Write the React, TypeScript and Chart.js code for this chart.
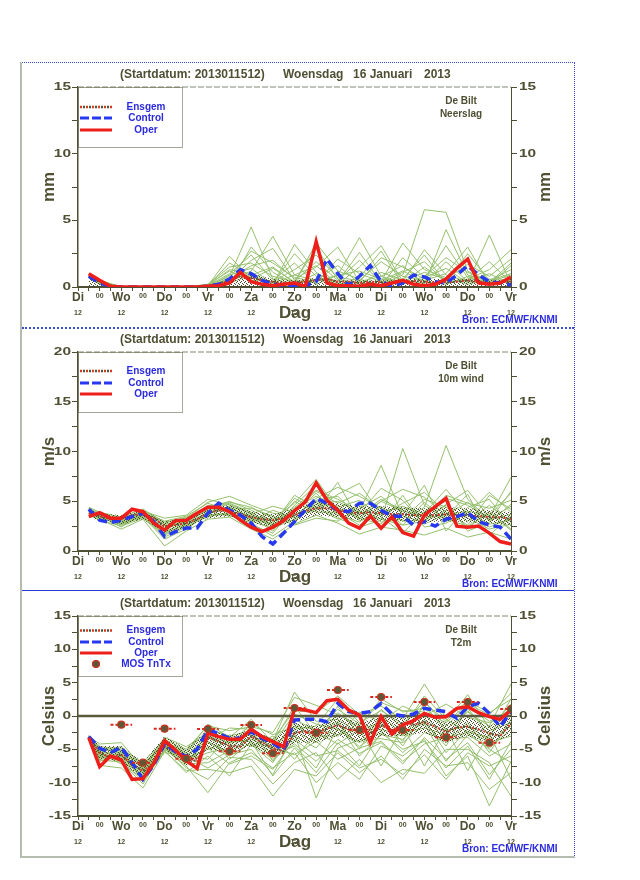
import React, { useEffect, useRef } from 'react';
import { Chart, registerables } from 'chart.js';
Chart.register(...registerables);

const FONT = '"Liberation Sans", Arial, Helvetica, sans-serif';
const OLIVE = '#4f4f33';
const BLUE_TXT = '#2a2ae0';
const GREEN = '#95c06e';
const RED = '#ee1f1a';
const BLUE = '#2638f0';

// ---------- axis / label data ----------
const HOURS_6H = [6, 12, 18, 24, 30, 36, 42, 48, 54, 60, 66, 72, 78, 84, 90, 96, 102, 108, 114, 120, 126, 132, 138, 144, 150, 156, 162, 168, 174, 180, 186, 192, 198, 204, 210, 216, 222, 228, 234, 240];
const MEMBER_HOURS = [6, 12, 24, 36, 48, 60, 72, 84, 96, 108, 120, 132, 144, 156, 168, 180, 192, 204, 216, 228, 240];
const DAY_NAMES = ['Di', 'Wo', 'Do', 'Vr', 'Za', 'Zo', 'Ma', 'Di', 'Wo', 'Do', 'Vr'];
const DAY_HOURS = [0, 24, 48, 72, 96, 120, 144, 168, 192, 216, 240];
const MIDNIGHT_HOURS = [12, 36, 60, 84, 108, 132, 156, 180, 204, 228];
const TITLE_PARTS = ['(Startdatum: 2013011512)', 'Woensdag', '16 Januari', '2013'];
const TITLE_X = [120, 283, 353, 424];
const STATION = 'De Bilt';
const SOURCE = 'Bron: ECMWF/KNMI';

// ---------- precipitation (mm) ----------
const PRECIP_OPER = [1.0, 0.5, 0.05, 0, 0, 0, 0, 0, 0, 0, 0, 0.05, 0.1, 0.3, 1.1, 0.4, 0.2, 0.1, 0.2, 0.3, 0.05, 3.4, 0.3, 0.1, 0.1, 0.05, 0.2, 0.1, 0.3, 0.5, 0.2, 0.1, 0.2, 0.6, 1.4, 2.1, 0.3, 0.2, 0.3, 0.75];
const PRECIP_CTRL = [0.8, 0.3, 0.05, 0, 0, 0, 0, 0, 0, 0, 0, 0.05, 0.2, 0.6, 1.3, 1.0, 0.5, 0.2, 0.1, 0.1, 0.1, 0.4, 2.1, 1.0, 0.1, 0.8, 1.6, 0.4, 0.05, 0.3, 0.9, 0.75, 0.4, 0.3, 0.9, 1.6, 0.9, 0.4, 0.3, 0.15];
const PRECIP_ENS = [0.8, 0.4, 0.1, 0, 0, 0, 0, 0, 0, 0, 0.02, 0.1, 0.25, 0.5, 0.8, 0.7, 0.5, 0.4, 0.3, 0.35, 0.4, 0.5, 0.6, 0.4, 0.4, 0.3, 0.4, 0.35, 0.3, 0.4, 0.45, 0.4, 0.35, 0.35, 0.4, 0.5, 0.4, 0.3, 0.35, 0.4];
const PRECIP_BAND_LO = [0, 0, 0, 0, 0, 0, 0, 0, 0, 0, 0, 0, 0, 0, 0, 0, 0, 0, 0, 0, 0];
const PRECIP_BAND_HI = [0.9, 0.4, 0, 0, 0, 0, 0.1, 0.6, 1.0, 0.6, 0.5, 0.7, 0.5, 0.5, 0.5, 0.6, 0.6, 0.6, 0.6, 0.5, 0.6];
const PRECIP_MEMBERS = [
  [0.9, 0.4, 0, 0, 0, 0, 0.1, 0.8, 4.5, 0.6, 0.2, 1.0, 0.3, 0.1, 0.5, 1.2, 0.4, 0.2, 0.8, 0.3, 0.5],
  [0.8, 0.3, 0, 0, 0, 0, 0.2, 1.5, 1.8, 0.8, 0.4, 2.9, 0.6, 0.2, 1.1, 0.5, 0.3, 1.9, 0.4, 0.2, 0.6],
  [1.0, 0.5, 0, 0, 0, 0, 0, 0.4, 1.2, 3.8, 0.9, 0.5, 1.6, 0.3, 0.2, 0.9, 5.8, 5.6, 1.2, 0.3, 0.4],
  [0.7, 0.2, 0, 0, 0, 0, 0.1, 1.0, 2.4, 0.5, 1.8, 0.2, 0.9, 3.7, 0.8, 0.3, 1.5, 0.4, 2.5, 0.5, 1.3],
  [0.9, 0.3, 0, 0, 0, 0, 0, 0.3, 0.9, 1.5, 0.3, 3.3, 1.2, 0.6, 0.1, 2.2, 0.7, 1.4, 0.3, 3.9, 0.2],
  [0.8, 0.4, 0, 0, 0, 0, 0.1, 1.8, 0.8, 0.3, 2.5, 0.8, 0.2, 1.5, 3.1, 0.4, 1.1, 0.6, 1.7, 0.8, 2.1],
  [1.0, 0.5, 0, 0, 0, 0, 0, 0.6, 1.6, 2.0, 0.6, 1.5, 3.0, 0.4, 0.8, 1.6, 0.2, 4.3, 0.9, 0.4, 0.9],
  [0.8, 0.3, 0, 0, 0, 0, 0, 0.2, 3.0, 1.1, 0.2, 0.6, 0.4, 2.6, 0.3, 0.6, 2.4, 0.3, 0.5, 1.9, 0.3],
  [0.9, 0.4, 0, 0, 0, 0, 0.2, 1.2, 0.5, 0.4, 1.3, 2.4, 0.7, 0.5, 1.9, 0.8, 0.5, 1.0, 3.0, 0.2, 1.6],
  [0.7, 0.3, 0, 0, 0, 0, 0.1, 0.5, 2.0, 2.9, 0.5, 0.3, 2.1, 1.0, 0.4, 3.3, 1.3, 0.7, 0.2, 0.6, 0.4],
  [0.9, 0.4, 0, 0, 0, 0, 0, 0.9, 1.4, 0.2, 3.2, 1.1, 0.1, 0.7, 2.7, 0.2, 0.8, 2.2, 1.1, 0.5, 1.0],
  [0.8, 0.3, 0, 0, 0, 0, 0.1, 2.3, 0.6, 1.4, 0.4, 1.9, 0.5, 2.0, 0.3, 1.1, 1.9, 0.3, 0.6, 1.3, 2.8],
  [0.8, 0.4, 0, 0, 0, 0, 0, 0.7, 2.7, 1.8, 0.7, 0.4, 0.9, 1.2, 0.6, 0.4, 2.8, 0.9, 0.4, 1.0, 0.2],
  [0.9, 0.3, 0, 0, 0, 0, 0.1, 1.3, 1.0, 0.3, 0.9, 1.6, 0.2, 0.4, 2.2, 1.5, 0.6, 3.1, 0.7, 0.3, 1.8],
];

// ---------- 10m wind (m/s) ----------
const WIND_OPER = [3.45, 3.85, 3.3, 3.3, 4.2, 3.95, 2.8, 2.1, 3.05, 3.1, 3.8, 4.4, 4.4, 3.95, 3.1, 2.4, 1.95, 2.4, 3.05, 4.05, 4.95, 6.85, 5.1, 4.1, 2.8, 2.3, 3.5, 2.3, 3.45, 1.85, 1.5, 3.6, 4.45, 5.3, 2.5, 2.4, 2.5, 1.8, 0.95, 0.7];
const WIND_CTRL = [4.2, 3.1, 2.85, 3.1, 3.45, 3.8, 2.95, 1.45, 1.95, 2.3, 2.3, 3.8, 4.8, 4.1, 3.6, 2.8, 1.45, 0.7, 1.8, 2.95, 4.1, 5.3, 4.8, 4.1, 3.95, 4.8, 4.8, 4.1, 3.5, 3.5, 2.6, 2.95, 2.5, 3.2, 3.45, 3.85, 2.95, 2.6, 2.4, 1.2];
const WIND_ENS = [3.8, 3.5, 3.2, 3.3, 3.6, 3.7, 3.3, 2.5, 2.6, 2.8, 3.2, 3.8, 4.1, 4.0, 3.7, 3.4, 3.2, 3.1, 3.3, 3.6, 4.0, 4.3, 4.3, 4.1, 3.9, 3.8, 3.9, 3.8, 3.7, 3.7, 3.6, 3.6, 3.6, 3.7, 3.6, 3.6, 3.5, 3.4, 3.4, 3.2];
const WIND_BAND_LO = [3.4, 3.1, 2.7, 3.2, 1.8, 2.3, 3.3, 3.5, 2.8, 2.4, 2.9, 3.6, 3.4, 3.1, 3.1, 3.0, 2.9, 3.0, 2.9, 2.8, 2.6];
const WIND_BAND_HI = [4.2, 3.8, 3.6, 4.1, 3.0, 3.3, 4.4, 4.6, 4.0, 3.7, 4.3, 5.0, 4.8, 4.5, 4.5, 4.4, 4.3, 4.4, 4.3, 4.1, 3.9];
const WIND_MEMBERS = [
  [4.2, 3.6, 3.0, 3.9, 2.2, 3.1, 4.4, 4.8, 3.9, 2.6, 4.4, 6.1, 5.2, 4.0, 8.6, 3.5, 2.9, 4.1, 3.3, 2.2, 2.7],
  [3.9, 3.4, 2.6, 3.5, 1.4, 2.4, 3.6, 3.7, 2.8, 1.5, 3.0, 4.9, 3.3, 2.4, 3.1, 10.3, 4.6, 3.2, 2.5, 3.8, 2.1],
  [4.4, 3.9, 3.4, 4.2, 2.9, 3.3, 4.9, 5.5, 4.6, 3.8, 3.5, 5.3, 6.4, 5.5, 4.3, 3.0, 4.4, 10.6, 5.2, 3.1, 3.7],
  [3.7, 3.2, 2.2, 3.2, 0.5, 2.0, 3.2, 3.4, 2.2, 1.2, 2.7, 3.6, 2.8, 1.7, 2.4, 2.1, 1.6, 2.3, 1.4, 1.9, 1.2],
  [4.1, 3.7, 3.1, 3.8, 2.6, 2.9, 4.1, 4.3, 3.5, 3.2, 4.8, 7.2, 4.1, 3.6, 5.2, 4.1, 3.3, 5.6, 4.8, 4.3, 5.1],
  [3.8, 3.3, 2.8, 3.6, 1.9, 2.6, 3.9, 4.1, 3.2, 2.8, 5.3, 4.2, 5.7, 6.8, 3.6, 4.8, 5.9, 3.9, 2.6, 5.6, 4.2],
  [4.3, 3.8, 3.3, 4.0, 3.3, 3.6, 5.2, 4.6, 3.7, 4.5, 3.9, 5.8, 3.7, 2.9, 4.5, 2.6, 3.0, 4.7, 6.1, 3.4, 7.4],
  [3.6, 3.1, 2.5, 3.3, 1.7, 2.7, 3.4, 3.9, 3.0, 2.3, 3.2, 4.5, 4.6, 3.3, 2.7, 5.6, 2.4, 2.8, 3.9, 2.7, 3.1],
  [4.0, 3.5, 3.2, 3.7, 2.4, 3.0, 4.6, 4.2, 4.3, 3.5, 2.6, 3.3, 3.0, 4.3, 5.5, 3.7, 6.6, 2.0, 4.4, 5.2, 2.5],
  [3.9, 3.3, 2.7, 3.4, 1.2, 2.2, 3.7, 3.6, 2.6, 1.8, 4.3, 5.5, 4.4, 5.1, 3.4, 1.8, 4.0, 5.0, 2.0, 2.9, 4.7],
  [4.2, 3.7, 2.9, 4.1, 2.8, 3.4, 4.3, 5.0, 4.1, 3.0, 3.7, 4.0, 6.9, 3.0, 3.9, 4.5, 3.5, 3.4, 5.7, 1.6, 3.5],
  [3.8, 3.4, 3.1, 3.6, 2.0, 2.8, 3.9, 4.4, 3.4, 2.0, 4.6, 6.6, 3.5, 4.6, 2.9, 3.2, 5.2, 4.4, 3.0, 4.6, 2.9],
  [4.1, 3.6, 2.4, 3.9, 3.0, 3.5, 4.8, 4.0, 2.9, 4.1, 3.3, 4.7, 5.0, 3.8, 6.3, 5.1, 2.7, 3.7, 4.0, 3.6, 5.8],
  [3.7, 3.2, 2.9, 3.5, 1.6, 2.5, 3.5, 3.8, 3.6, 2.5, 5.0, 3.9, 3.9, 2.6, 4.0, 4.3, 3.8, 6.2, 3.6, 2.4, 3.3],
  [4.0, 3.4, 2.7, 3.6, 2.3, 2.9, 4.2, 4.7, 3.8, 2.2, 3.6, 5.0, 4.3, 3.2, 5.0, 6.2, 5.4, 3.6, 4.9, 3.0, 6.0],
  [3.8, 3.5, 3.2, 3.8, 2.1, 3.2, 4.0, 3.5, 3.3, 3.0, 4.1, 6.0, 4.8, 5.8, 4.2, 3.0, 3.1, 4.6, 2.3, 4.0, 2.2],
  [4.2, 3.6, 2.8, 3.4, 1.8, 2.6, 3.8, 4.5, 3.1, 2.7, 5.6, 4.4, 3.2, 4.0, 3.2, 2.6, 4.9, 3.0, 3.7, 5.9, 3.9],
  [3.9, 3.3, 3.0, 3.9, 2.7, 3.1, 4.5, 4.9, 4.4, 3.3, 3.0, 5.1, 5.5, 3.4, 5.0, 4.0, 3.6, 5.3, 4.6, 3.2, 4.5],
];

// ---------- 2m temperature (Celsius) ----------
const T2M_OPER = [-3.25, -7.6, -6.0, -6.6, -9.5, -9.4, -7.1, -3.7, -5.1, -6.7, -7.85, -2.6, -3.1, -3.5, -3.5, -2.0, -3.1, -3.85, -4.6, 1.1, 0.9, 0.5, 2.3, 2.5, 0.9, 0.15, -4.0, -0.1, -2.7, -1.35, -0.7, 0.4, -0.2, -0.1, 1.15, 1.4, 0.5, -0.1, -0.5, 0.9];
const T2M_CTRL = [-3.1, -4.85, -5.5, -4.7, -7.0, -9.5, -7.35, -4.1, -5.35, -6.1, -5.0, -2.1, -2.6, -3.35, -3.35, -2.35, -3.35, -4.1, -5.1, -0.6, -0.5, -0.5, -0.85, 1.9, 0.65, 0.4, 0.65, 1.9, 0.3, 0.0, 0.3, 1.15, 0.9, 0.65, -0.35, 1.4, 1.9, 0.4, -1.6, 0.65];
const T2M_ENS = [-3.2, -5.5, -6.2, -5.8, -7.3, -8.2, -7.2, -4.5, -5.5, -6.3, -6.8, -3.2, -3.8, -4.5, -4.6, -3.0, -4.0, -4.8, -5.3, -2.5, -2.3, -2.4, -1.9, -1.4, -2.0, -2.2, -2.6, -1.4, -2.2, -1.0, -1.3, -0.9, -1.6, -2.4, -1.7, -1.6, -2.0, -2.6, -3.0, -1.1];
const T2M_BAND_LO = [-3.4, -6.5, -6.8, -9.5, -5.0, -7.5, -5.0, -5.5, -4.5, -6.0, -4.0, -4.0, -3.0, -4.0, -3.0, -3.0, -2.5, -4.0, -3.0, -4.0, -3.0];
const T2M_BAND_HI = [-2.8, -4.5, -4.5, -7.0, -3.0, -5.0, -2.0, -3.0, -2.0, -3.5, -1.0, -1.5, 0.0, -1.0, 0.0, 0.0, 0.5, -1.0, 0.0, -1.5, 0.0];
const T2M_MEMBERS = [
  [-3.0, -5.0, -4.6, -7.5, -3.8, -5.5, -2.0, -3.0, -2.2, -3.5, 0.8, 0.5, 3.0, 0.2, 1.5, -0.5, 4.8, -0.3, 2.2, 0.5, 2.5],
  [-3.3, -6.2, -6.5, -9.0, -4.6, -7.0, -4.5, -6.0, -4.0, -6.5, -4.2, -6.8, -3.5, -5.6, -4.0, -7.2, -3.2, -6.5, -4.0, -8.8, -5.0],
  [-2.9, -4.6, -5.0, -7.0, -3.5, -5.0, -1.5, -2.2, -1.6, -2.5, 2.8, 1.6, 0.2, -1.5, 2.6, 0.6, 1.2, -2.0, 0.6, -1.5, 4.8],
  [-3.5, -7.4, -7.8, -10.8, -5.3, -8.2, -8.0, -8.5, -7.5, -12.0, -8.0, -9.0, -5.5, -8.5, -6.0, -9.5, -5.0, -7.5, -7.0, -11.0, -8.5],
  [-3.1, -5.5, -5.5, -8.5, -4.2, -6.2, -3.0, -4.0, -3.5, -5.0, -1.0, -3.5, 1.5, -3.0, -0.5, -4.5, 0.5, -4.0, -1.0, -5.5, -0.5],
  [-3.2, -5.8, -6.2, -8.2, -4.8, -6.8, -5.5, -4.8, -2.5, -4.2, 0.3, -1.2, -2.0, -4.0, -1.5, -2.5, -1.8, -2.8, 0.8, -2.2, -1.0],
  [-3.4, -6.8, -5.8, -9.6, -5.0, -7.5, -11.5, -7.0, -5.5, -7.8, -5.5, -10.0, -7.0, -9.5, -4.5, -6.0, -3.5, -9.0, -6.0, -13.5, -6.8],
  [-3.0, -4.2, -4.0, -7.8, -3.2, -4.6, -2.6, -3.5, -2.8, -4.6, -2.0, -1.5, 2.6, -1.0, 0.8, -1.2, 2.2, -1.5, 1.6, -0.8, 1.0],
  [-3.3, -6.0, -6.8, -8.8, -4.4, -6.6, -4.0, -5.4, -3.2, -5.8, -3.0, -4.8, -1.0, -6.0, -2.8, -3.5, -0.5, -5.5, -2.0, -4.0, -3.0],
  [-3.1, -5.2, -5.2, -8.0, -4.0, -5.8, -6.5, -2.8, -4.6, -3.0, -6.5, -2.5, -4.2, -2.0, -7.5, -1.6, -7.5, -1.8, -8.2, -2.6, -9.5],
  [-3.2, -5.6, -7.2, -9.3, -5.5, -6.0, -3.5, -1.8, -2.0, -3.8, 3.6, -0.8, -0.5, -2.6, 1.0, -1.8, 3.0, -0.5, -2.4, -3.2, 2.6],
  [-3.4, -6.5, -6.0, -8.6, -4.5, -7.8, -9.5, -6.2, -6.5, -10.2, -7.0, -5.5, -9.5, -6.5, -10.0, -8.0, -8.6, -5.0, -5.0, -7.0, -12.0],
  [-3.0, -4.8, -5.6, -7.2, -3.9, -5.2, -2.3, -4.2, -1.2, -2.8, -1.6, -3.0, -3.0, 0.6, -0.9, 1.5, 0.0, 1.8, -0.2, -1.0, 0.2],
  [-3.3, -5.9, -6.4, -8.4, -4.3, -6.4, -5.0, -3.8, -3.8, -6.0, -4.5, -7.8, -1.8, -4.6, -2.2, -5.5, -2.5, -3.5, -3.2, -6.0, -4.2],
  [-3.1, -5.3, -4.8, -7.9, -4.7, -6.9, -3.8, -5.8, -5.0, -8.8, -2.6, -12.3, -4.8, -3.6, -3.4, -4.0, -1.2, -6.8, -2.8, -4.8, -2.0],
  [-3.2, -6.6, -6.9, -10.2, -4.9, -7.2, -7.0, -5.2, -2.0, -6.8, -1.5, -2.0, -2.8, -2.0, -2.0, -3.0, 1.6, -2.2, -1.5, -3.6, -1.5],
  [-3.0, -5.4, -5.9, -8.1, -3.6, -6.0, -2.8, -6.5, -3.8, -9.0, -4.8, -8.5, -4.0, -7.5, -2.5, -5.0, -3.8, -7.8, -4.5, -9.5, -3.8],
  [-3.3, -6.1, -6.6, -9.8, -5.2, -8.5, -6.0, -9.0, -4.2, -7.0, -2.2, -4.0, 0.5, -2.0, -1.0, -3.8, 2.0, -0.8, 3.2, -1.8, 1.8],
  [-3.1, -5.0, -5.3, -7.6, -4.1, -5.6, -1.2, -3.2, -0.5, -4.0, 1.5, -2.8, -0.8, -5.0, 0.2, -2.8, -1.0, -4.5, 1.2, -3.0, 0.8],
  [-3.2, -5.7, -6.1, -8.9, -4.4, -6.5, -4.8, -7.2, -6.0, -8.0, -3.5, -6.0, -5.2, -7.8, -6.5, -8.8, -5.8, -9.5, -5.5, -7.5, -6.0],
  [-3.4, -6.3, -5.5, -8.3, -3.4, -7.0, -3.2, -4.5, -1.8, -5.5, -0.5, -2.2, 1.0, -1.2, 2.0, 0.8, 0.6, -1.0, 1.8, 0.2, 3.4],
  [-3.0, -5.1, -6.5, -9.1, -5.1, -6.1, -7.8, -5.8, -3.0, -4.8, -5.8, -3.8, -6.5, -4.8, -3.8, -6.8, -4.2, -3.2, -2.5, -5.0, -7.0],
];
const MOS_TX_HOURS = [24, 48, 72, 96, 120, 144, 168, 192, 216, 240];
const MOS_TX = [-1.3, -1.9, -1.95, -1.35, 1.2, 3.9, 2.85, 2.1, 2.1, 1.05];
const MOS_TN_HOURS = [36, 60, 84, 108, 132, 156, 180, 204, 228];
const MOS_TN = [-7.0, -6.4, -5.3, -5.6, -2.5, -2.1, -2.1, -3.2, -4.0];

type PanelCfg = {
  top: number; height: number; padTop: number; xh: number;
  yMin: number; yMax: number; majors: number[]; unit: string; varName: string;
  oper: number[]; ctrl: number[]; ens: number[]; members: number[][];
  bandLo: number[]; bandHi: number[]; legendY: number[]; zero?: boolean; mos?: boolean;
};

const PANELS: PanelCfg[] = [
  { top: 62, height: 266, padTop: 25, xh: 41, yMin: 0, yMax: 15, majors: [0, 5, 10, 15], unit: 'mm', varName: 'Neerslag',
    oper: PRECIP_OPER, ctrl: PRECIP_CTRL, ens: PRECIP_ENS, members: PRECIP_MEMBERS, bandLo: PRECIP_BAND_LO, bandHi: PRECIP_BAND_HI, legendY: [20, 31, 43] },
  { top: 328, height: 263, padTop: 24, xh: 40, yMin: 0, yMax: 20, majors: [0, 5, 10, 15, 20], unit: 'm/s', varName: '10m wind',
    oper: WIND_OPER, ctrl: WIND_CTRL, ens: WIND_ENS, members: WIND_MEMBERS, bandLo: WIND_BAND_LO, bandHi: WIND_BAND_HI, legendY: [19, 31, 42] },
  { top: 591, height: 266, padTop: 25, xh: 41, yMin: -15, yMax: 15, majors: [-15, -10, -5, 0, 5, 10, 15], unit: 'Celsius', varName: 'T2m',
    oper: T2M_OPER, ctrl: T2M_CTRL, ens: T2M_ENS, members: T2M_MEMBERS, bandLo: T2M_BAND_LO, bandHi: T2M_BAND_HI, legendY: [14.5, 26, 37, 48], zero: true, mos: true },
];

function pts(hours: number[], vals: (number | null)[]) {
  return hours.map((h, i) => ({ x: h, y: vals[i] }));
}

function txt(ctx: CanvasRenderingContext2D, s: string, x: number, y: number, font: string, color: string,
  align: CanvasTextAlign, baseline: CanvasTextBaseline, sx = 1, rot = 0) {
  ctx.save();
  ctx.font = font; ctx.fillStyle = color; ctx.textAlign = align; ctx.textBaseline = baseline;
  ctx.translate(x, y);
  if (rot) ctx.rotate(rot);
  ctx.scale(sx, 1);
  ctx.fillText(s, 0, 0);
  ctx.restore();
}

function seg(ctx: CanvasRenderingContext2D, x1: number, y1: number, x2: number, y2: number) {
  ctx.beginPath(); ctx.moveTo(x1, y1); ctx.lineTo(x2, y2); ctx.stroke();
}

function makePattern(): CanvasPattern | string {
  const c = document.createElement('canvas');
  c.width = 4; c.height = 4;
  const g = c.getContext('2d');
  if (!g) return 'rgba(80,80,50,0.3)';
  g.fillStyle = '#4b4b2e';
  g.fillRect(0, 0, 1, 1);
  g.fillRect(2, 1, 1, 1);
  g.fillRect(1, 3, 1, 1);
  g.fillRect(3, 2, 1, 1);
  const p = g.createPattern(c, 'repeat');
  return p || 'rgba(80,80,50,0.3)';
}

function buildConfig(p: PanelCfg): any {
  const pattern = makePattern();
  const base = { pointRadius: 0, pointHoverRadius: 0, tension: 0, fill: false, xAxisID: 'x', yAxisID: 'y' };
  const datasets: any[] = [];
  if (p.mos) {
    const mosPts = [...pts(MOS_TX_HOURS, MOS_TX), ...pts(MOS_TN_HOURS, MOS_TN)];
    const bars: any[] = [];
    const allH = [...MOS_TX_HOURS, ...MOS_TN_HOURS];
    const allV = [...MOS_TX, ...MOS_TN];
    allH.forEach((h, i) => {
      bars.push({ x: h - 6, y: allV[i] }, { x: h + 6, y: allV[i] }, { x: h + 6, y: null });
    });
    datasets.push({ ...base, data: mosPts, showLine: false, pointRadius: 3.5, pointBackgroundColor: '#5e5838', pointBorderColor: '#c8331f', pointBorderWidth: 1.2, order: -2 });
    datasets.push({ ...base, data: bars, borderColor: '#d8281e', borderWidth: 2, borderDash: [3, 2], spanGaps: false, order: -1 });
  }
  datasets.push({ ...base, data: pts(HOURS_6H, p.oper), borderColor: RED, borderWidth: 3.5, order: 1 });
  datasets.push({ ...base, data: pts(HOURS_6H, p.ctrl), borderColor: BLUE, borderWidth: 3.5, borderDash: [9, 5], order: 2 });
  datasets.push({ ...base, data: pts(HOURS_6H, p.ens), borderColor: '#d23a2a', borderWidth: 2, borderDash: [2, 4], order: 3 });
  datasets.push({ ...base, data: pts(HOURS_6H, p.ens), borderColor: '#55553a', borderWidth: 2, borderDash: [2, 4], borderDashOffset: 3, order: 3 });
  if (p.zero) datasets.push({ ...base, data: [{ x: 0, y: 0 }, { x: 240, y: 0 }], borderColor: '#5a5a3c', borderWidth: 2.5, order: 4 });
  datasets.push({ ...base, data: pts(MEMBER_HOURS, p.bandLo), borderWidth: 1, borderColor: 'rgba(0,0,0,0)', order: 5 });
  datasets.push({ ...base, data: pts(MEMBER_HOURS, p.bandHi), borderWidth: 1, borderColor: 'rgba(0,0,0,0)', backgroundColor: pattern, fill: '-1', order: 5 });
  p.members.forEach(m => datasets.push({ ...base, data: pts(MEMBER_HOURS, m), borderColor: GREEN, borderWidth: 1, order: 10 }));

  const axisCommon = (width: number, pos: string, dashed: boolean) => ({
    type: 'linear', position: pos, min: p.yMin, max: p.yMax,
    ticks: { display: false, stepSize: 2.5 },
    grid: { drawOnChartArea: false, drawTicks: true, tickLength: 6, color: OLIVE, lineWidth: 1 },
    border: { display: true, color: OLIVE, width: dashed ? 1 : 1.5, dash: dashed ? [2, 1] : [] },
    afterFit: (s: any) => { s.width = width; },
  });

  const decor = {
    id: 'decor',
    afterDraw(chart: any) {
      const ctx: CanvasRenderingContext2D = chart.ctx;
      const a = chart.chartArea;
      const ys = chart.scales.y;
      const xs = chart.scales.x;
      ctx.save();
      ctx.strokeStyle = '#a9b1a1'; ctx.lineWidth = 1.5; ctx.setLineDash([6, 2]);
      seg(ctx, a.left, a.top, a.right, a.top);
      ctx.setLineDash([]);
      TITLE_PARTS.forEach((s, i) => txt(ctx, s, TITLE_X[i], a.top - 12, `bold 12px ${FONT}`, OLIVE, 'left', 'middle'));
      txt(ctx, STATION, a.right - 50, a.top + 14, `bold 10px ${FONT}`, OLIVE, 'center', 'middle');
      txt(ctx, p.varName, a.right - 50, a.top + 27, `bold 10px ${FONT}`, OLIVE, 'center', 'middle');
      p.majors.forEach(v => {
        const y = ys.getPixelForValue(v);
        txt(ctx, String(v), a.left - 7, y, `bold 11px ${FONT}`, OLIVE, 'right', 'middle', 1.4);
        txt(ctx, String(v), a.right + 8, y, `bold 11px ${FONT}`, OLIVE, 'left', 'middle', 1.4);
      });
      const midY = (a.top + a.bottom) / 2;
      txt(ctx, p.unit, 54, midY, `bold 17px ${FONT}`, OLIVE, 'center', 'alphabetic', 1, -Math.PI / 2);
      txt(ctx, p.unit, 550, midY, `bold 17px ${FONT}`, OLIVE, 'center', 'alphabetic', 1, -Math.PI / 2);
      DAY_HOURS.forEach((h, i) => {
        const x = xs.getPixelForValue(h);
        txt(ctx, DAY_NAMES[i], x, a.bottom + 11, `bold 12px ${FONT}`, OLIVE, 'center', 'middle');
        txt(ctx, '12', x, a.bottom + 26, `bold 7px ${FONT}`, OLIVE, 'center', 'middle');
      });
      MIDNIGHT_HOURS.forEach(h => {
        const x = xs.getPixelForValue(h);
        txt(ctx, '00', x, a.bottom + 9, `bold 7px ${FONT}`, OLIVE, 'center', 'middle');
      });
      txt(ctx, 'Dag', 295, a.bottom + 26, `bold 17px ${FONT}`, OLIVE, 'center', 'middle');
      txt(ctx, SOURCE, 462, a.bottom + 33, `bold 10px ${FONT}`, BLUE_TXT, 'left', 'middle');
      const lx = a.left, ly = a.top;
      ctx.strokeStyle = OLIVE; ctx.lineWidth = 1; ctx.setLineDash([1, 1]);
      ctx.strokeRect(lx + 0.5, ly + 0.5, 104, 60);
      const names = p.mos ? ['Ensgem', 'Control', 'Oper', 'MOS TnTx'] : ['Ensgem', 'Control', 'Oper'];
      names.forEach((n, i) => {
        const y = ly + p.legendY[i];
        if (i === 0) {
          ctx.lineWidth = 2.5; ctx.setLineDash([2, 4]); ctx.strokeStyle = '#d23a2a'; ctx.lineDashOffset = 0;
          seg(ctx, lx + 2, y, lx + 34, y);
          ctx.strokeStyle = '#55553a'; ctx.lineDashOffset = 3;
          seg(ctx, lx + 2, y, lx + 34, y);
          ctx.lineDashOffset = 0;
        } else if (i === 1) {
          ctx.lineWidth = 3; ctx.setLineDash([9, 3]); ctx.strokeStyle = BLUE;
          seg(ctx, lx + 2, y, lx + 34, y);
        } else if (i === 2) {
          ctx.lineWidth = 3; ctx.setLineDash([]); ctx.strokeStyle = RED;
          seg(ctx, lx + 2, y, lx + 34, y);
        } else {
          ctx.setLineDash([]);
          ctx.beginPath(); ctx.arc(lx + 18, y, 3.5, 0, Math.PI * 2);
          ctx.fillStyle = '#5e5838'; ctx.fill();
          ctx.lineWidth = 1.2; ctx.strokeStyle = '#c8331f'; ctx.stroke();
        }
        txt(ctx, n, lx + 68, y, `bold 10px ${FONT}`, BLUE_TXT, 'center', 'middle');
      });
      ctx.restore();
    },
  };

  return {
    type: 'line',
    data: { datasets },
    options: {
      animation: false, responsive: false, maintainAspectRatio: false, devicePixelRatio: 1,
      layout: { padding: { top: p.padTop, left: 0, right: 0, bottom: 0 } },
      plugins: { legend: { display: false }, tooltip: { enabled: false }, title: { display: false } },
      events: [],
      scales: {
        x: {
          type: 'linear', position: 'bottom', min: 0, max: 240,
          ticks: { display: false, stepSize: 6 },
          grid: { drawOnChartArea: false, drawTicks: true, tickLength: 4, color: OLIVE },
          border: { display: true, color: OLIVE, width: 2 },
          afterFit: (s: any) => { s.height = p.xh; },
        },
        y: axisCommon(78, 'left', false),
        y2: axisCommon(129, 'right', true),
      },
    },
    plugins: [decor],
  };
}

function Panel({ cfg }: { cfg: PanelCfg }) {
  const ref = useRef<HTMLCanvasElement>(null);
  useEffect(() => {
    if (!ref.current) return;
    const chart = new Chart(ref.current, buildConfig(cfg));
    return () => chart.destroy();
  }, [cfg]);
  return (
    <canvas ref={ref} width={640} height={cfg.height}
      style={{ position: 'absolute', left: 0, top: cfg.top, width: 640, height: cfg.height }} />
  );
}

export default function App() {
  return (
    <div style={{ position: 'absolute', left: 0, top: 0, width: 640, height: 880, background: '#fff', overflow: 'hidden' }}>
      {PANELS.map((p, i) => <Panel key={i} cfg={p} />)}
      <div style={{ position: 'absolute', left: 20, top: 62, width: 552, height: 793, borderTop: '1px dotted #3a4bd0', borderRight: '1px dotted #3a4bd0', borderLeft: '2px solid #b4bcae', borderBottom: '2px solid #b4bcae', pointerEvents: 'none' }} />
      <div style={{ position: 'absolute', left: 22, top: 327, width: 552, height: 0, borderTop: '2px dotted #3a4bd0', pointerEvents: 'none' }} />
      <div style={{ position: 'absolute', left: 22, top: 590, width: 552, height: 0, borderTop: '1px solid #2a3ad0', pointerEvents: 'none' }} />
    </div>
  );
}
